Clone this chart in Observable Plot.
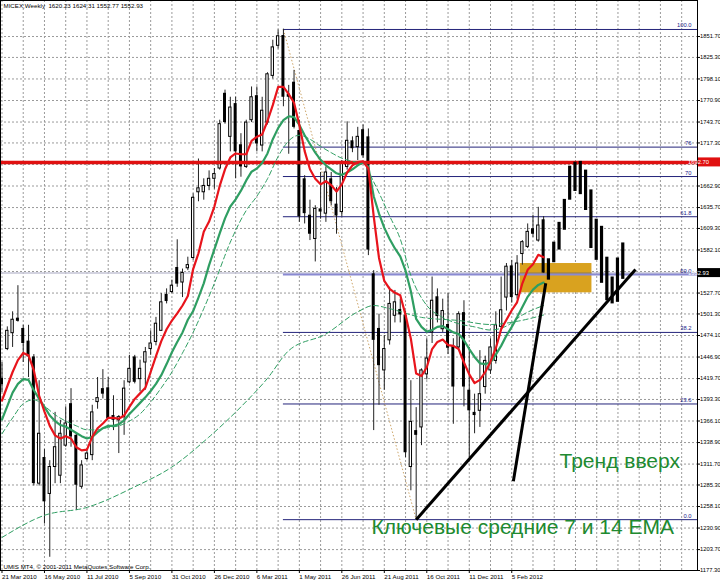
<!DOCTYPE html>
<html><head><meta charset="utf-8">
<script src="https://cdn.jsdelivr.net/npm/d3@7"></script>
<script src="https://cdn.jsdelivr.net/npm/@observablehq/plot@0.6"></script>
<style>body{margin:0;background:#fff;}</style>
</head><body><div id="chart"></div>
<script>
// ---------- DATA ----------
const titleText = "MICEX,Weekly  1620.23 1624.31 1552.77 1552.93";
const copyrightText = "UMIS MT4, \u00a9 2001-2011 MetaQuotes Software Corp.";
const dateLabels = ["21 Mar 2010","16 May 2010","11 Jul 2010","5 Sep 2010","31 Oct 2010","26 Dec 2010","6 Mar 2011","1 May 2011","26 Jun 2011","21 Aug 2011","16 Oct 2011","11 Dec 2011","5 Feb 2012"];
const yTicks = [1851.7,1825.3,1798.1,1770.9,1743.7,1717.3,1690.1,1662.9,1635.7,1609.3,1582.1,1554.9,1527.7,1501.3,1474.1,1446.9,1419.7,1393.3,1366.1,1338.9,1311.7,1285.3,1258.1,1230.9,1203.7,1177.3];
const hiddenTickLabels = [1690.1, 1554.9]; // covered by the price tags in the reference

const barOpen = [1420,1457,1477,1496,1483,1467,1447,1287,1320,1274,
1308,1297,1335,1388,1348,1283,1318,1323,1390,1407,
1408,1373,1367,1371,1415,1447,1419,1440,1457,1466,
1480,1526,1529,1560,1541,1559,1572,1655,1655,1663,
1672,1685,1780,1725,1767,1715,1687,1746,1777,1714,
1743,1802,1840,1853,1779,1794,1733,1672,1626,1596,
1634,1628,1672,1640,1630,1687,1720,1712,1734,1725,
1552,1483,1430,1468,1499,1507,1500,1308,1354,1358,
1425,1478,1523,1482,1488,1461,1459,1503,1405,1377,
1379,1409,1430,1442,1485,1522,1562,1525,1577,1586,
1609,1594,1620.23];
const barHigh = [1440,1485,1504,1537,1487,1487,1450,1417,1330,1316,
1377,1367,1384,1407,1350,1316,1331,1386,1421,1431,
1421,1398,1373,1417,1449,1449,1443,1459,1480,1497,
1527,1533,1544,1595,1558,1573,1653,1697,1672,1682,
1685,1746,1784,1775,1775,1729,1746,1788,1788,1775,
1806,1847,1860,1861,1790,1809,1746,1676,1645,1638,
1680,1687,1680,1661,1695,1744,1725,1737,1740,1735,
1556,1501,1474,1535,1531,1520,1505,1417,1383,1432,
1470,1548,1533,1520,1527,1470,1504,1518,1459,1400,
1455,1448,1470,1504,1548,1565,1569,1575,1594,1615,
1626,1636,1624.31];
const barLow = [1402,1455,1459,1491,1440,1421,1284,1284,1236,1194,
1287,1287,1333,1333,1253,1280,1316,1316,1381,1394,
1368,1354,1325,1348,1413,1413,1403,1405,1449,1461,
1480,1514,1527,1535,1522,1556,1569,1643,1645,1657,
1659,1683,1741,1706,1672,1674,1685,1743,1706,1706,
1740,1798,1836,1763,1703,1735,1617,1615,1594,1567,
1621,1617,1638,1602,1624,1683,1705,1695,1698,1575,
1354,1386,1405,1462,1490,1490,1320,1278,1241.5,1335,
1418,1464,1490,1478,1450,1362,1455,1384,1320,1350,
1358,1400,1425,1438,1480,1505,1515,1520,1563,1584,
1598,1592,1552.77];
const barClose = [1412,1480,1494,1492,1464,1447,1287,1350,1264,1308,
1333,1350,1363,1346,1285,1310,1325,1377,1395,1400,
1369,1367,1371,1407,1432,1415,1432,1453,1464,1489,
1516,1517,1537,1539,1553,1563,1648,1660,1663,1672,
1678,1741,1743,1762,1706,1687,1743,1775,1716,1758,
1804,1838,1852,1775,1775,1737,1624,1628,1602,1634,
1630,1680,1643,1625,1693,1720,1710,1725,1701,1582,
1468,1436,1457,1514,1516,1500,1326,1365,1348,1430,
1445,1518,1498,1505,1458,1409,1501,1409,1379,1373,
1400,1442,1459,1487,1506,1561,1522,1565,1592,1605,
1602,1613,1552.93];

// hand-drawn projected bars (bar index 103..117)
const drawnIndex = [103,104,105,106,107,108,109,110,111,112,113,114,115,116,117];
const drawnTop    = [1571,1592,1617,1646,1688,1693,1694,1683,1658,1621,1612,1573,1548,1572,1591];
const drawnBottom = [1544,1566,1582,1607,1645,1656,1652,1632,1584,1569,1540,1518,1514,1516,1545];

const ema7 = [1392,1410,1428,1443,1452,1449,1430,1398,1378,1360,
1348,1344,1347,1344,1333,1329,1330,1346,1357,1363,
1370,1370,1369,1373,1384,1394,1401,1408,1428,1448,
1467,1482,1493,1502,1512,1524,1558,1578,1605,1618,
1637,1663,1684,1699,1704,1703,1703,1720,1725,1728,
1745,1765,1788,1788,1779,1768,1740,1707,1684,1672,
1665,1669,1664,1656,1665,1680,1689,1693,1694,1685,
1625,1572,1543,1533,1528,1525,1500,1470,1426,1423,
1434,1457,1466,1469,1462,1461,1457,1440,1425,1414,
1418,1428,1441,1458,1482,1494,1506,1516,1540,1557,
1564,1576,1573];
const ema14 = [1368,1385,1402,1413,1419,1418,1405,1394,1384,1373,
1366,1361,1359,1355,1351,1347,1344,1346,1352,1357,
1360,1360,1362,1367,1375,1382,1389,1396,1404,1413,
1424,1438,1453,1466,1478,1494,1505,1522,1540,1563,
1583,1603,1622,1637,1646,1657,1670,1681,1685,1692,
1704,1722,1736,1746,1751,1750,1740,1727,1716,1705,
1696,1689,1684,1679,1677,1680,1684,1689,1693,1687,
1650,1628,1610,1596,1584,1574,1556,1530,1495,1485,
1479,1481,1485,1486,1482,1478,1476,1468,1457,1447,
1439,1438,1440,1450,1461,1474,1485,1497,1510,1523,
1532,1538,1541];
const ema21Index = [0,2,4,6,8,10,12,14,16,18,20,22,24,26,28,30,32,34,36,38,40,43,46,48,50,52,54,56,58,60,62,64,66,68,70,73,75,77,80,83,86,89,92,95,98,102];
const ema21Value = [1350,1370,1388,1393,1385,1374,1366,1360,1355,1355,1358,1360,1366,1375,1390,1408,1428,1452,1478,1508,1540,1592,1632,1650,1672,1700,1720,1727,1722,1713,1705,1698,1694,1692,1668,1625,1596,1550,1512,1497,1489,1485,1481,1486,1500,1512];
const emaLongIndex = [0,8,16,25,32,39,45,50,54,61,67,70,73,79,86,92,97,102];
const emaLongValue = [1219,1247,1257,1283,1308,1346,1384,1420,1455,1476,1504,1512,1508,1497,1493,1488,1492,1500];

const fibHigh = 1860.6, fibLow = 1241.5, fibStartBar = 53, fibEndBar = 78;
const fibLevels = [100, 76, 70, 61.8, 50, 38.2, 23.6, 0];
const fibLabels = ["100.0","76","70","61.8","50.0","38.2","23.6","0.0"];
const resistance = 1692.7;
const bidPrice = 1552.93;
const zone = {i1: 97.6, i2: 111.1, p1: 1528, p2: 1565};
const trendLines = [
  {i1: 78, p1: 1241.5, i2: 119.3, p2: 1557.5},
  {i1: 96.3, p1: 1290, i2: 102.4, p2: 1540}
];
const annotations = [
  {i: 105, p: 1307, label: "Тренд вверх"},
  {i: 69.6, p: 1222.8, label: "Ключевые средние 7 и 14 EMA"}
];

// ---------- BUILD ----------
const bars = barOpen.map((o, i) => ({i, o, h: barHigh[i], l: barLow[i], c: barClose[i]}));
const upBars = bars.filter(b => b.c >= b.o);
const downBars = bars.filter(b => b.c < b.o);
const drawn = drawnIndex.map((i, k) => ({i, t: drawnTop[k], b: drawnBottom[k]}));
const e7 = ema7.map((v, i) => ({i, v}));
const e14 = ema14.map((v, i) => ({i, v}));
const e21 = ema21Index.map((i, k) => ({i, v: ema21Value[k]}));
const eL = emaLongIndex.map((i, k) => ({i, v: emaLongValue[k]}));
const fib = fibLevels.map((lv, k) => ({price: fibLow + (fibHigh - fibLow) * lv / 100, label: fibLabels[k], lv}));
const xMin = -0.28, xMax = 130.98;
const xLabelTicks = dateLabels.map((d, k) => k * 8);
const xGridTicks = d3.range(0, 131, 4);
const yLabelTicks = yTicks.filter(t => !hiddenTickLabels.includes(t));

const GREEN = "#2f9e62";
const FONT = "'Liberation Sans', Arial, sans-serif";
const chart = Plot.plot({
  width: 720, height: 582,
  marginLeft: 0, marginRight: 23, marginTop: 0, marginBottom: 12,
  x: {type: "linear", domain: [xMin, xMax], axis: null},
  y: {type: "linear", domain: [1177.3, 1897.2], axis: null},
  style: {fontFamily: FONT, background: "#fff", overflow: "visible"},
  marks: [
    Plot.gridY(yTicks, {stroke: "#9a9a9a", strokeOpacity: 1, strokeDasharray: "2,2"}),
    Plot.gridX(xGridTicks, {stroke: "#9a9a9a", strokeOpacity: 1, strokeDasharray: "2,2"}),
    Plot.ruleY([bidPrice], {stroke: "#c4c4d6", strokeWidth: 1.5}),
    Plot.rect([zone], {x1: "i1", x2: "i2", y1: "p1", y2: "p2", fill: "#d9a21f"}),
    Plot.ruleY([bidPrice], {x1: zone.i1, x2: zone.i2, stroke: "#8c7a52", strokeWidth: 1.2}),
    Plot.ruleY(fib.filter(f => f.lv !== 50), {y: "price", x1: fibStartBar, x2: xMax, stroke: "#23237a", strokeWidth: 1}),
    Plot.ruleY(fib.filter(f => f.lv === 50), {y: "price", x1: fibStartBar, x2: xMax, stroke: "#8a8ad2", strokeWidth: 2}),
    Plot.link([{a: fibStartBar, b: fibHigh, c: fibEndBar, d: fibLow}], {x1: "a", y1: "b", x2: "c", y2: "d", stroke: "#cda66a", strokeWidth: 1, strokeDasharray: "1.5,2"}),
    Plot.ruleX(bars, {x: "i", y1: "l", y2: "h", stroke: "#222", strokeWidth: 1}),
    Plot.rect(upBars, {x1: d => d.i - 0.22, x2: d => d.i + 0.22, y1: "o", y2: "c", fill: "#fff", stroke: "#000", strokeWidth: 1}),
    Plot.rect(downBars, {x1: d => d.i - 0.28, x2: d => d.i + 0.28, y1: "o", y2: "c", fill: "#000"}),
    Plot.ruleY([resistance], {stroke: "#e01010", strokeWidth: 3.5}),
    Plot.line(eL, {x: "i", y: "v", stroke: GREEN, strokeWidth: 1, strokeDasharray: "5,3", curve: "monotone-x"}),
    Plot.line(e21, {x: "i", y: "v", stroke: GREEN, strokeWidth: 1, strokeDasharray: "5,3", curve: "monotone-x"}),
    Plot.line(e14, {x: "i", y: "v", stroke: GREEN, strokeWidth: 2.2}),
    Plot.line(e7, {x: "i", y: "v", stroke: "#e8141c", strokeWidth: 2.2}),
    Plot.rect(drawn, {x1: d => d.i - 0.3, x2: d => d.i + 0.3, y1: "b", y2: "t", fill: "#000"}),
    Plot.link(trendLines, {x1: "i1", y1: "p1", x2: "i2", y2: "p2", stroke: "#000", strokeWidth: 3}),
    Plot.text(fib, {y: "price", text: "label", frameAnchor: "right", dx: -6, dy: -2, textAnchor: "end", lineAnchor: "bottom", fontSize: 5.8, fill: "#1b1b8a"}),
    Plot.text(annotations, {x: "i", y: "p", text: "label", textAnchor: "start", lineAnchor: "bottom", fontSize: 21, fill: "#208a30"}),
    Plot.text([titleText], {frameAnchor: "top-left", dx: 3, dy: 3, textAnchor: "start", lineAnchor: "top", fontSize: 6.2, fill: "#000"}),
    Plot.text([copyrightText], {frameAnchor: "bottom-left", dx: 3, dy: -2, textAnchor: "start", lineAnchor: "bottom", fontSize: 6.2, fill: "#000"}),
    Plot.axisY(yLabelTicks, {anchor: "right", tickFormat: d => d.toFixed(2), tickSize: 2, tickPadding: 0.5, fontSize: 5.8, fill: "#000"}),
    Plot.axisX(xLabelTicks, {anchor: "bottom", tickFormat: i => dateLabels[i / 8], tickSize: 3, tickPadding: 1, textAnchor: "start", fontSize: 6.2, fill: "#000"}),
    Plot.frame({stroke: "#000"})
  ]
});
document.getElementById("chart").appendChild(chart);

// price tags on the right axis, positioned through Plot's scales
const ys = chart.scale("y"), xs = chart.scale("x");
const svg = d3.select(chart);
const axisX0 = xs.range[1];
function priceTag(p, bg) {
  const y = ys.apply(p);
  svg.append("rect").attr("x", axisX0 + 1).attr("y", y - 4.5).attr("width", 720 - axisX0 - 1).attr("height", 9).attr("fill", bg);
  svg.append("text").attr("x", axisX0 + 1.5).attr("y", y + 2.1).attr("fill", "#fff")
    .attr("font-size", 5.8).attr("font-family", FONT).text(p.toFixed(2));
}
priceTag(resistance, "#e01010");
priceTag(bidPrice, "#000");
</script>
</body></html>
